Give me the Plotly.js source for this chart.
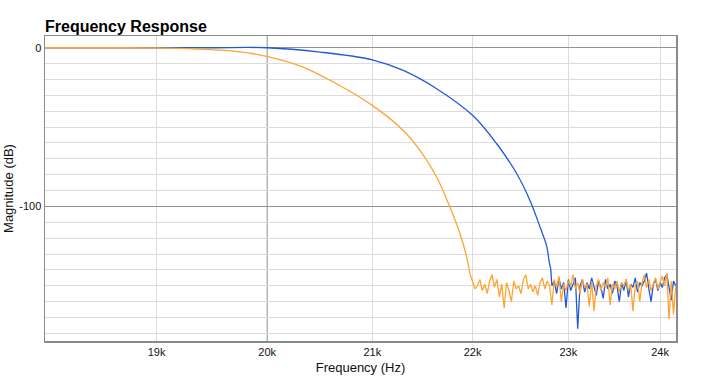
<!DOCTYPE html>
<html>
<head>
<meta charset="utf-8">
<script src="https://cdn.plot.ly/plotly-3.0.1.min.js"></script>
<style>html,body{margin:0;padding:0;background:#fff;}#chart{width:709px;height:380px;}</style>
</head>
<body>
<div id="chart"></div>
<script>
// Passband / transition band readings (Hz, dB)
const blueFreq = [17900, 18500, 19000, 19500, 20000, 20496, 21000, 21304, 21636, 22000, 22248, 22456, 22594, 22700, 22770, 22798, 22812];
const blueDb   = [0, 0, 0, 0, 0, -2.7, -7.6, -14.3, -25.8, -42.6, -60.5, -79.4, -96.2, -113, -125, -135.5, -139];

const orangeFreq = [17900, 18500, 19000, 19357, 19750, 20025, 20336, 20654, 21000, 21304, 21470, 21636, 21770, 21872, 21940, 21974];
const orangeDb   = [0, 0, -0.1, -0.8, -2.6, -5.9, -12.2, -22.7, -36.3, -52.1, -64.7, -81.5, -100.4, -117.2, -131.9, -142.4];

// Stopband noise floor readings
const orangeNoiseFreq = [22000,22025,22050,22075,22100,22125,22150,22175,22200,22225,22250,22275,22300,22325,22350,22375,22400,22425,22450,22475,22500,22525,22550,22575,22600,22625,22650,22675,22700,22725,22750,22775,22800,22825,22850,22875,22900,22925,22950,22975,23000,23025,23050,23075,23100,23125,23150,23175,23200,23225,23250,23275,23300,23325,23350,23375,23400,23425,23450,23475,23500,23525,23550,23575,23600,23625,23650,23675,23700,23725,23750,23775,23800,23825,23850,23875,23900,23925,23950,23975,24000,24025,24050,24075,24100,24125,24150,24175];
const orangeNoiseDb = [-147,-152,-150,-146,-153,-149,-155,-147,-143,-151,-146,-157,-149,-164,-148,-153,-160,-147,-152,-150,-155,-146,-143,-152,-149,-154,-150,-156,-148,-145,-152,-147,-150,-162,-146,-151,-144,-160,-149,-153,-147,-150,-143,-152,-148,-155,-146,-151,-149,-163,-147,-166,-150,-146,-153,-148,-151,-145,-162,-149,-152,-147,-154,-148,-150,-146,-153,-149,-166,-150,-147,-160,-148,-143,-151,-146,-153,-149,-145,-152,-148,-144,-150,-142,-171,-147,-168,-150];

const blueNoiseFreq = [22825,22850,22875,22900,22925,22950,22975,23000,23025,23050,23075,23100,23125,23150,23175,23200,23225,23250,23275,23300,23325,23350,23375,23400,23425,23450,23475,23500,23525,23550,23575,23600,23625,23650,23675,23700,23725,23750,23775,23800,23825,23850,23875,23900,23925,23950,23975,24000,24025,24050,24075,24100,24125,24150,24175];
const blueNoiseDb = [-150,-147,-155,-145,-152,-148,-164,-146,-153,-149,-145,-177,-150,-146,-154,-148,-152,-145,-150,-156,-147,-151,-158,-146,-152,-149,-155,-147,-150,-160,-148,-153,-146,-157,-149,-151,-145,-154,-148,-150,-147,-142,-152,-160,-149,-146,-153,-148,-151,-145,-143,-150,-159,-147,-150];

const xTickVals = [19000, 20000, 21000, 22000, 23000, 24000];
const xTickText = ['19k', '20k', '21k', '22k', '23k', '24k'];
const xLightGrid = [19000, 21000, 22000, 23000, 24000];
const majorXGrid = 20000;
const yTickVals = [-100, 0];
const yTickText = ['-100', '0'];
const yRange = [-184.8, 7.4];

const FONT = 'Liberation Sans, Arial, Helvetica, sans-serif';
const BLUE = '#1f5ad6';
const ORANGE = '#ffa333';

const last = a => a[a.length - 1];

const traces = [
  {x: blueFreq, y: blueDb, type: 'scatter', mode: 'lines',
   line: {color: BLUE, width: 1.3, shape: 'spline', smoothing: 1}, hoverinfo: 'skip'},
  {x: [last(blueFreq)].concat(blueNoiseFreq), y: [last(blueDb)].concat(blueNoiseDb), type: 'scatter', mode: 'lines',
   line: {color: BLUE, width: 1.3}, hoverinfo: 'skip'},
  {x: orangeFreq, y: orangeDb, type: 'scatter', mode: 'lines',
   line: {color: ORANGE, width: 1.3, shape: 'spline', smoothing: 1}, hoverinfo: 'skip'},
  {x: [last(orangeFreq)].concat(orangeNoiseFreq), y: [last(orangeDb)].concat(orangeNoiseDb), type: 'scatter', mode: 'lines',
   line: {color: ORANGE, width: 1.3}, hoverinfo: 'skip'}
];

const gridShape = xv => ({type: 'line', xref: 'x', yref: 'y', x0: xv, x1: xv, y0: yRange[0], y1: yRange[1],
  line: {color: '#8f8f8f', width: 1}, layer: 'below'});

const layout = {
  width: 709, height: 380,
  margin: {l: 45, r: 33, t: 36, b: 39},
  paper_bgcolor: '#ffffff', plot_bgcolor: '#ffffff',
  showlegend: false,
  font: {family: FONT, size: 11, color: '#111'},
  title: {text: '<b>Frequency Response</b>', font: {family: FONT, size: 16, color: '#000'},
          x: 0, xref: 'paper', xanchor: 'left', y: 1, yref: 'paper', yanchor: 'bottom', pad: {b: 4}},
  xaxis: {
    type: 'log', range: [4.25626, 4.38342],
    tickmode: 'array', tickvals: xTickVals, ticktext: xTickText,
    ticks: '', showgrid: false,
    minor: {tickmode: 'array', tickvals: xLightGrid, showgrid: true, gridcolor: '#dcdcdc', gridwidth: 1, ticks: ''},
    showline: true, linecolor: '#8a8a8a', linewidth: 1.5, mirror: true,
    zeroline: false, tickfont: {family: FONT, size: 11, color: '#111'},
    title: {text: 'Frequency (Hz)', font: {family: FONT, size: 13, color: '#111'}, standoff: 6}
  },
  yaxis: {
    range: yRange,
    tickmode: 'array', tickvals: yTickVals, ticktext: yTickText,
    ticks: '', showgrid: true, gridcolor: '#939393', gridwidth: 1,
    minor: {tickmode: 'linear', tick0: 0, dtick: 10, showgrid: true, gridcolor: '#dcdcdc', gridwidth: 1, ticks: ''},
    showline: true, linecolor: '#8a8a8a', linewidth: 1.5, mirror: true,
    zeroline: false, tickfont: {family: FONT, size: 11, color: '#111'},
    title: {text: 'Magnitude (dB)', font: {family: FONT, size: 13, color: '#111'}, standoff: 2}
  },
  // darker vertical grid line at 20k (only the interpretation that matches the axis lands in range)
  shapes: [gridShape(majorXGrid), gridShape(Math.log10(majorXGrid))]
};

Plotly.newPlot('chart', traces, layout, {displayModeBar: false, staticPlot: true});
</script>
</body>
</html>
